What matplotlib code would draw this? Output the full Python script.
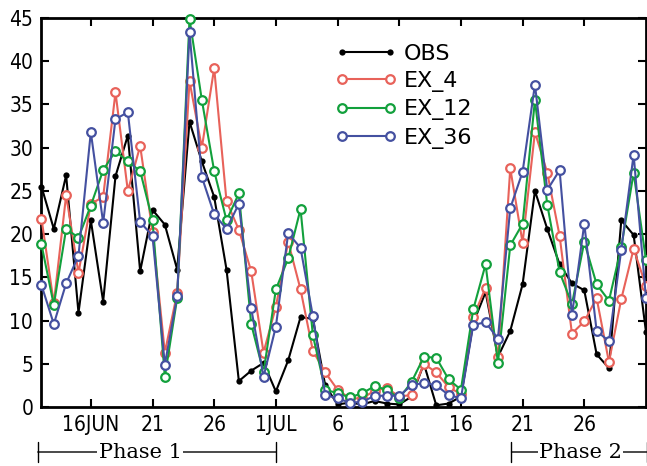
import matplotlib
matplotlib.use("Agg")
import matplotlib.pyplot as plt
import matplotlib.transforms as mtransforms
from matplotlib.legend_handler import HandlerLine2D

# days since 12 June (0 .. 49 -> 12JUN .. 31JUL)
days = list(range(50))

obs = [25.5, 20.6, 26.8, 10.9, 21.6, 12.2, 26.7, 31.4, 15.7, 22.8,
       21.1, 15.9, 33.0, 28.4, 24.3, 15.9, 3.0, 4.2, 5.1, 1.8,
       5.4, 10.4, 10.2, 2.5, 0.3, 0.5, 0.3, 0.7, 0.4, 0.3,
       1.2, 5.0, 0.2, 0.4, 1.2, 9.7, 13.3, 5.8, 8.8, 14.2,
       25.0, 20.6, 16.5, 14.3, 13.5, 6.1, 4.5, 21.6, 19.9, 8.7]

ex_4 = [21.8, 12.0, 24.5, 15.5, 23.5, 24.3, 36.4, 25.0, 30.2, 20.3,
        6.3, 13.2, 37.7, 30.0, 39.2, 23.8, 20.5, 15.7, 6.3, 11.6,
        19.1, 13.6, 6.5, 4.0, 2.0, 1.0, 1.0, 1.9, 2.2, 1.2,
        1.4, 5.0, 4.0, 2.3, 1.5, 10.4, 13.8, 5.8, 27.6, 19.0,
        31.8, 27.1, 19.8, 8.5, 9.9, 12.6, 5.2, 12.5, 18.3, 14.0]

ex_12 = [18.8, 11.8, 20.6, 19.6, 23.3, 27.4, 29.6, 28.4, 27.3, 21.6,
         3.5, 12.6, 44.9, 35.5, 27.3, 21.6, 24.7, 9.6, 4.0, 13.6,
         17.2, 22.9, 8.3, 2.0, 1.6, 1.1, 1.6, 2.4, 2.0, 1.0,
         2.9, 5.8, 5.7, 3.2, 2.0, 11.3, 16.5, 5.1, 18.7, 21.2,
         35.5, 23.4, 15.6, 11.9, 19.1, 14.2, 12.3, 18.5, 27.1, 17.0]

ex_36 = [14.1, 9.6, 14.3, 17.5, 31.8, 21.3, 33.3, 34.1, 21.4, 19.8,
         4.9, 12.8, 43.4, 26.6, 22.3, 20.6, 23.5, 11.4, 3.5, 9.3,
         20.1, 18.4, 10.5, 1.4, 1.0, 0.5, 0.6, 1.3, 1.3, 1.3,
         2.5, 2.8, 2.5, 1.4, 1.0, 9.5, 9.8, 7.9, 23.0, 27.2,
         37.3, 25.1, 27.4, 10.6, 21.2, 8.8, 7.6, 18.2, 29.2, 12.6]

tick_days = [4, 9, 14, 19, 24, 29, 34, 39, 44]
tick_labels = ["16JUN", "21", "26", "1JUL", "6", "11", "16", "21", "26"]

# (label, bracket start day, bracket end day, label centre day)
phases = [("Phase 1", -0.3, 19.0, 8.0), ("Phase 2", 38.1, 49.1, 43.7)]

fig = plt.figure(figsize=(6.47, 4.66), dpi=100)
ax = fig.add_axes([0.0641, 0.1266, 0.9343, 0.8348])

ax.plot(days, obs, color="black", linewidth=1.5, marker="o", markersize=4.5,
        markeredgewidth=0, clip_on=False, label="OBS", zorder=3)
series = [(ex_4, "#e8625a", "EX_4"), (ex_12, "#12a03c", "EX_12"),
          (ex_36, "#4450a0", "EX_36")]
for vals, col, lab in series:
    ax.plot(days, vals, color=col, linewidth=1.5, marker="o", markersize=6.2,
            markerfacecolor="white", markeredgecolor=col, markeredgewidth=1.6,
            clip_on=False, label=lab, zorder=3)

ax.set_xlim(0, 49)
ax.set_ylim(0, 45)
ax.set_yticks(range(0, 46, 5))
ax.set_xticks(tick_days)
ax.set_xticklabels(tick_labels)
ax.tick_params(direction="in", length=6, width=1.5, top=True, right=True,
               labelsize=15, pad=6)
for lbl in ax.get_xticklabels() + ax.get_yticklabels():
    lbl.set_stretch("condensed")
for sp in ax.spines.values():
    sp.set_linewidth(2)

ax.legend(loc="upper left", bbox_to_anchor=(0.464, 0.985), frameon=False,
          fontsize=16, handlelength=2.16, handletextpad=0.63,
          labelspacing=0.33, numpoints=2,
          handler_map={plt.Line2D: HandlerLine2D(marker_pad=0)})

# phase brackets under the axis
trans = mtransforms.blended_transform_factory(ax.transData, fig.transFigure)
ybar = 1 - 452 / 466
for name, x0, x1, xc in phases:
    ax.annotate("", xy=(x0, ybar), xytext=(x1, ybar), xycoords=trans,
                textcoords=trans,
                arrowprops=dict(arrowstyle="|-|,widthA=0.7,widthB=0.7",
                                color="black", linewidth=1.0,
                                shrinkA=0, shrinkB=0))
    ax.text(xc, ybar, name, transform=trans, ha="center",
            va="center", fontsize=15, family="DejaVu Serif",
            bbox=dict(facecolor="white", edgecolor="none", pad=1))

fig.savefig("out.png", dpi=100)
